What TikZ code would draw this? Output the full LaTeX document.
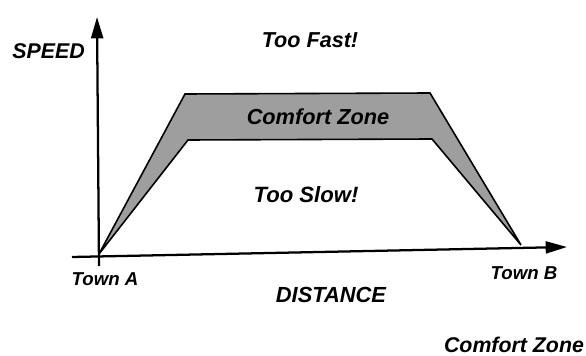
\documentclass[tikz,border=0pt]{standalone}
\usepackage{fontspec}
\setmainfont{Liberation Sans}
\usetikzlibrary{arrows.meta}
\begin{document}
\begin{tikzpicture}[x=0.75pt,y=-0.75pt,
  lbl/.style={font=\bfseries\itshape\fontsize{#1}{#1}\selectfont, inner sep=0pt},
  axis/.style={line width=1.7pt, -{Triangle[length=16pt,width=9pt]}},
  zone/.style={fill=black!38, draw=black, line width=1.2pt, line join=miter}]
\useasboundingbox (0,0) rectangle (586,356);
\coordinate (O) at (99,254);
\coordinate (ytop) at (97,17);
\coordinate (ybot) at (99,266);
\coordinate (xleft) at (72,257);
\coordinate (xright) at (567,247);
\draw[zone] (O) -- (185,94) -- (430,93) -- (521,245) -- (432,139) -- (188,140) -- cycle;
\draw[axis] (ybot) -- (ytop);
\draw[axis] (xleft) -- (xright);
\node[lbl=16] (speed) at (48.5,51) {SPEED};
\node[lbl=16.2] (fast) at (310,40) {Too Fast!};
\node[lbl=16.3] (comfort) at (318,117) {Comfort Zone};
\node[lbl=16.6] (slow) at (306,195) {Too Slow!};
\node[lbl=14] (townA) at (105,279) {Town A};
\node[lbl=14] (townB) at (524,273.5) {Town B};
\node[lbl=16.4] (dist) at (331,295) {DISTANCE};
\node[lbl=16] (cz) at (514,344.5) {Comfort Zone};
\end{tikzpicture}
\end{document}
